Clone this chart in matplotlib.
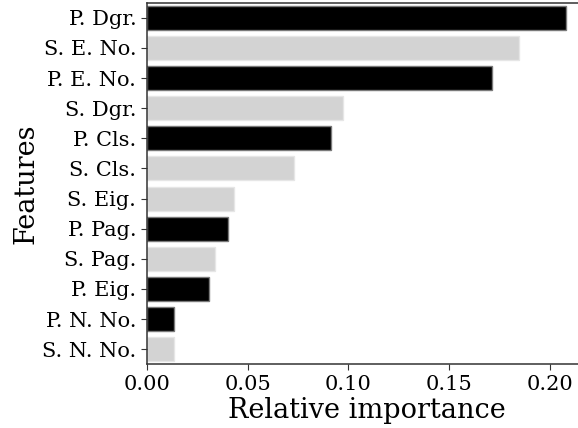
import matplotlib

matplotlib.use("Agg")
import matplotlib.pyplot as plt
import numpy as np

# feature importances, sorted from highest to lowest
features = [
    "P. Dgr.", "S. E. No.", "P. E. No.", "S. Dgr.", "P. Cls.", "S. Cls.",
    "S. Eig.", "P. Pag.", "S. Pag.", "P. Eig.", "P. N. No.", "S. N. No.",
]
importance = [
    0.2079, 0.1845, 0.1710, 0.0971, 0.0915, 0.0730,
    0.0431, 0.0401, 0.0340, 0.0307, 0.0135, 0.0135,
]
# P. = primary (black), S. = secondary (light gray)
groups = [name.split(".")[0] for name in features]

plt.rcParams["font.family"] = "DejaVu Serif"

fig = plt.figure(figsize=(5.78, 4.28), dpi=100)
ax = fig.add_axes([0.2538, 0.1488, 0.7618, 0.8449])

ypos = np.arange(len(features))
colors = ["black" if g == "P" else "lightgray" for g in groups]
edges = ["#7a7a7a" if g == "P" else "#e6e6e6" for g in groups]
ax.barh(ypos, importance, height=0.8, color=colors, edgecolor=edges, linewidth=1.0)

ax.set_ylim(len(features) - 0.5, -0.5)
ax.set_xlim(0, max(importance) * 1.05)
ax.set_yticks(ypos)
ax.set_yticklabels(features)
ax.set_xticks([0.0, 0.05, 0.10, 0.15, 0.20])
ax.set_xticklabels(["0.00", "0.05", "0.10", "0.15", "0.20"])
ax.tick_params(axis="both", labelsize=15, color="#333333", length=4)

for side in ("left", "bottom", "top"):
    ax.spines[side].set_color("#333333")
    ax.spines[side].set_linewidth(1.1)
ax.spines["right"].set_visible(False)

ax.set_xlabel("Relative importance", fontsize=19.5, labelpad=2)
ax.set_ylabel("Features", fontsize=19.5, labelpad=2)

fig.savefig("out.png", dpi=100)
plt.close(fig)
